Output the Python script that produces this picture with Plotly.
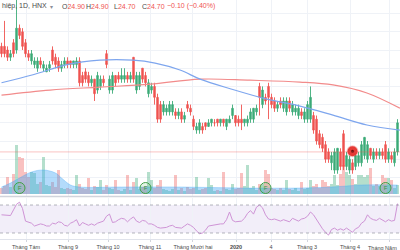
import plotly.graph_objects as go

# ---------------- data ----------------
opens = [27.6, 27.6, 27.5, 27.3, 27.7, 27.5, 28.1, 28.0, 27.7, 27.4,
         27.2, 27.1, 27.0, 27.2, 27.0, 26.9, 27.0, 27.5, 27.3, 27.2,
         27.0, 27.1, 27.2, 27.2, 27.1, 27.1, 27.2, 26.8, 26.9, 26.8,
         26.6, 26.7, 26.4, 26.5, 26.7, 27.4, 26.4, 26.4, 26.8, 26.8,
         26.7, 26.7, 26.8, 26.7, 27.3, 26.4, 26.5, 27.0, 26.8, 26.3,
         26.4, 26.5, 26.2, 26.0, 25.8, 25.8, 25.8, 25.8, 25.8, 25.7,
         25.8, 25.6, 26.0, 25.9, 25.6, 25.3, 25.3, 25.4, 25.5, 25.4,
         25.5, 25.5, 25.6, 25.5, 25.6, 25.4, 25.5, 25.7, 25.7, 25.6,
         25.6, 25.5, 25.5, 25.6, 25.6, 25.8, 26.5, 26.0, 26.2, 26.5,
         26.2, 26.1, 25.9, 26.1, 25.9, 25.8, 26.1, 25.8, 25.8, 25.7,
         25.8, 25.6, 25.6, 25.6, 25.7, 25.6, 25.2, 25.1, 24.9, 24.7,
         24.4, 24.2, 24.2, 24.7, 25.2, 24.3, 24.2, 24.4, 24.3, 24.4,
         24.4, 24.6, 24.5, 24.8, 24.5, 24.7, 24.6, 24.7, 24.9, 24.5,
         24.6, 24.4, 24.7]
highs = [27.7, 28.3, 27.6, 27.5, 27.8, 28.9, 28.2, 28.1, 27.8, 27.5,
         27.5, 27.3, 27.3, 27.3, 27.2, 27.1, 27.2, 27.6, 27.4, 27.3,
         27.2, 27.3, 27.3, 27.2, 27.2, 27.3, 27.3, 26.9, 27.0, 26.9,
         26.8, 26.7, 26.9, 26.8, 26.8, 27.5, 26.8, 26.9, 26.8, 26.9,
         27.0, 27.0, 26.9, 26.9, 27.3, 26.9, 26.9, 27.0, 26.9, 26.7,
         26.6, 26.6, 26.3, 26.1, 26.1, 26.0, 26.1, 26.1, 25.9, 25.9,
         25.9, 25.8, 26.1, 26.0, 25.7, 25.5, 25.6, 25.5, 25.5, 25.6,
         25.6, 25.6, 25.6, 25.6, 25.6, 25.6, 25.7, 26.0, 25.7, 25.7,
         26.0, 25.6, 25.7, 25.9, 25.9, 26.0, 26.6, 26.5, 26.3, 26.6,
         26.3, 26.2, 26.1, 26.2, 26.2, 26.2, 26.2, 26.1, 26.0, 26.0,
         25.9, 25.9, 26.1, 26.5, 25.8, 25.7, 25.3, 25.2, 25.0, 24.8,
         24.7, 24.8, 24.8, 24.8, 25.3, 24.7, 24.6, 24.5, 24.7, 24.7,
         25.0, 25.1, 25.0, 24.8, 24.8, 24.8, 24.8, 24.8, 25.0, 24.8,
         24.7, 24.8, 25.6]
lows = [27.3, 27.3, 27.2, 27.2, 27.3, 27.4, 27.8, 27.5, 27.3, 27.2,
        27.1, 27.0, 26.9, 27.0, 26.9, 26.9, 26.9, 27.1, 27.0, 26.9,
        26.9, 27.0, 27.0, 27.0, 27.0, 27.0, 26.5, 26.5, 26.6, 26.5,
        26.5, 26.1, 26.3, 26.4, 26.5, 27.0, 26.3, 26.3, 26.5, 26.6,
        26.6, 26.6, 26.6, 26.6, 26.6, 26.3, 26.4, 26.6, 26.5, 26.2,
        26.3, 26.0, 25.5, 25.5, 25.7, 25.7, 25.7, 25.7, 25.6, 25.6,
        25.5, 25.5, 25.8, 25.7, 25.3, 25.2, 25.2, 25.2, 25.3, 25.4,
        25.4, 25.4, 25.4, 25.4, 25.4, 25.3, 25.5, 25.6, 25.4, 25.4,
        25.3, 25.4, 25.4, 25.5, 25.5, 25.7, 25.7, 25.9, 26.0, 25.6,
        25.9, 25.8, 25.8, 25.9, 25.8, 25.7, 25.8, 25.7, 25.7, 25.6,
        25.6, 25.5, 25.5, 25.5, 25.2, 24.9, 24.8, 24.7, 24.4, 24.4,
        24.2, 24.1, 24.1, 24.2, 24.2, 24.2, 24.1, 24.1, 24.2, 24.3,
        24.3, 24.5, 24.4, 24.5, 24.4, 24.5, 24.5, 24.5, 24.4, 24.4,
        24.4, 24.3, 24.6]
closes = [27.4, 27.4, 27.3, 27.4, 27.4, 28.1, 27.9, 27.6, 27.4, 27.3,
          27.4, 27.2, 27.2, 27.1, 27.1, 27.0, 27.1, 27.2, 27.1, 27.0,
          27.1, 27.2, 27.1, 27.1, 27.2, 27.2, 26.6, 26.6, 26.7, 26.6,
          26.7, 26.3, 26.8, 26.7, 26.6, 27.1, 26.7, 26.8, 26.6, 26.7,
          26.8, 26.8, 26.7, 26.8, 26.7, 26.8, 26.8, 26.7, 26.6, 26.6,
          26.5, 26.2, 25.6, 25.6, 26.0, 25.9, 26.0, 26.0, 25.7, 25.8,
          25.6, 25.7, 25.9, 25.8, 25.4, 25.4, 25.5, 25.3, 25.4, 25.5,
          25.6, 25.5, 25.5, 25.6, 25.5, 25.6, 25.6, 25.9, 25.5, 25.5,
          25.5, 25.6, 25.6, 25.8, 25.9, 25.9, 26.2, 26.4, 26.1, 26.2,
          26.0, 25.9, 26.0, 26.0, 26.1, 26.1, 25.9, 26.0, 25.9, 25.9,
          25.7, 25.8, 26.0, 26.2, 25.3, 25.0, 24.9, 24.8, 24.5, 24.5,
          24.6, 24.7, 24.8, 24.3, 24.3, 24.6, 24.5, 24.2, 24.6, 24.6,
          24.9, 25.1, 24.9, 24.6, 24.7, 24.6, 24.7, 24.6, 24.5, 24.7,
          24.5, 24.7, 25.5]
# volume, thousand shares
volumes = [60, 80, 170, 70, 200, 490, 370, 360, 220, 170,
           220, 210, 100, 120, 370, 90, 80, 120, 70, 240,
           60, 50, 60, 50, 40, 190, 100, 60, 50, 160,
           40, 80, 70, 140, 40, 90, 60, 50, 140, 40,
           30, 50, 190, 40, 120, 160, 50, 70, 80, 220,
           140, 60, 90, 140, 50, 40, 30, 50, 190, 40,
           60, 30, 70, 50, 60, 170, 40, 50, 60, 160,
           90, 30, 40, 30, 220, 50, 40, 100, 50, 60,
           210, 80, 290, 60, 80, 40, 100, 100, 240, 200,
           60, 50, 40, 60, 40, 140, 50, 40, 60, 30,
           120, 50, 60, 140, 80, 100, 60, 140, 120, 80,
           100, 190, 90, 200, 290, 220, 190, 150, 100, 190,
           190, 170, 190, 260, 80, 100, 80, 190, 160, 160,
           140, 60, 90]
rsi = [56, 56, 56, 55, 63, 71, 74, 65, 47, 46,
       44, 40, 41, 43, 42, 40, 40, 44, 43, 46,
       45, 41, 40, 44, 46, 49, 40, 45, 43, 41,
       43, 41, 44, 45, 47, 54, 57, 45, 46, 49,
       51, 50, 46, 50, 53, 47, 45, 48, 47, 43,
       43, 41, 38, 37, 37, 38, 40, 41, 38, 37,
       37, 40, 43, 41, 38, 33, 29, 30, 34, 40,
       41, 41, 43, 43, 43, 49, 60, 48, 46, 46,
       47, 51, 58, 62, 57, 67, 70, 66, 56, 50,
       49, 50, 49, 47, 49, 47, 46, 51, 49, 47,
       50, 51, 54, 60, 56, 49, 41, 36, 31, 27,
       35, 37, 34, 36, 34, 37, 34, 31, 36, 38,
       44, 47, 56, 51, 49, 48, 51, 49, 46, 49,
       47, 48, 72]

ma50_idx = [0, 10.5, 21.8, 32.8, 43.8, 51.2, 59.5, 66.2, 76.5, 88.5, 99.5, 110.5, 121.8, 132.8]
ma50_val = [26.60, 26.82, 27.10, 27.22, 27.22, 27.14, 26.95, 26.70, 26.43, 26.15, 25.96, 25.71, 25.44, 25.30]
ma200_idx = [0, 16.2, 32.8, 49.5, 66.2, 82.8, 99.5, 110.5, 121.8, 132.8]
ma200_val = [26.26, 26.40, 26.48, 26.56, 26.70, 26.67, 26.62, 26.54, 26.32, 25.90]
volma_idx = [0, 3, 6, 10, 14, 18, 20, 23, 26, 40, 60, 80, 100, 110, 115, 120, 132]
volma_val = [70, 110, 160, 220, 240, 210, 160, 90, 70, 70, 70, 60, 60, 70, 80, 90, 90]

tick_idx = [8.17, 22.17, 35.5, 49.5, 63.83, 78.17, 89.83, 101.83, 116.17, 129.17]
tick_text = ["Tháng Tám", "Tháng 9", "Tháng 10", "Tháng 11", "Tháng Mười hai",
             "<b>2020</b>", "4", "Tháng 3", "Tháng 4", "Tháng Năm"]

event_idx = [6, 48, 88, 128]
event_vol = [60, 60, 60, 60]
event_text = ["F", "F", "F", "F"]
news_idx = [117]
news_price = [24.72]
last_price = 24.70

header_name = "hiệp, 1D, HNX"
header_items = [("O", "24.90", 60), ("H", "24.90", 84), ("L", "24.70", 112), ("C", "24.70", 140)]
header_change = "−0.10 (−0.40%)"

# ---------------- figure ----------------
W, H = 400, 250
UP = "#3dab78"
DN = "#ef5350"
FONT = "Liberation Sans"
idx = list(range(len(opens)))

def py(px):
    return 1 - px / H

fig = go.Figure()

vol_colors = ["rgba(61,171,120,0.38)" if c >= o else "rgba(239,83,80,0.36)"
              for o, c in zip(opens, closes)]
fig.add_trace(go.Bar(x=idx, y=volumes, marker=dict(color=vol_colors, line=dict(width=0)),
                     width=0.7, xaxis="x", yaxis="y", hoverinfo="skip"))
fig.add_trace(go.Scatter(x=volma_idx, y=volma_val, mode="lines", line=dict(color="rgba(66,165,245,0.55)", width=0.6, shape="spline"),
                         fill="tozeroy", fillcolor="rgba(66,165,245,0.40)", xaxis="x", yaxis="y", hoverinfo="skip"))
fig.add_trace(go.Scatter(x=event_idx, y=event_vol, mode="markers+text", text=event_text,
                         textfont=dict(size=6, color="#2e9d45", family=FONT),
                         marker=dict(size=11, color="rgba(76,175,80,0.15)", line=dict(color="#43a047", width=1)),
                         xaxis="x", yaxis="y", hoverinfo="skip"))

fig.add_trace(go.Scatter(x=ma200_idx, y=ma200_val, mode="lines", line=dict(color="#f28b8b", width=1.2, shape="spline"),
                         xaxis="x", yaxis="y3", hoverinfo="skip"))
fig.add_trace(go.Scatter(x=ma50_idx, y=ma50_val, mode="lines", line=dict(color="#7ea6ee", width=1.2, shape="spline"),
                         xaxis="x", yaxis="y3", hoverinfo="skip"))
fig.add_trace(go.Candlestick(x=idx, open=opens, high=highs, low=lows, close=closes,
                             increasing=dict(line=dict(color=UP, width=0.9), fillcolor=UP),
                             decreasing=dict(line=dict(color=DN, width=0.9), fillcolor=DN),
                             xaxis="x", yaxis="y3", hoverinfo="skip"))
fig.add_trace(go.Scatter(x=news_idx, y=news_price, mode="markers",
                         marker=dict(size=10, color="#e53935", line=dict(color="rgba(229,57,53,0.3)", width=2)),
                         xaxis="x", yaxis="y3", hoverinfo="skip"))
fig.add_trace(go.Scatter(x=news_idx, y=news_price, mode="markers",
                         marker=dict(size=3, color="#6d1010"),
                         xaxis="x", yaxis="y3", hoverinfo="skip"))

fig.add_trace(go.Scatter(x=idx, y=rsi, mode="lines", line=dict(color="#cf94d6", width=1),
                         xaxis="x2", yaxis="y2", hoverinfo="skip"))

# last month label is placed right-aligned so it stays inside the picture
axis_text = tick_text[:-1] + [""]

grid = "#eff2f7"
x_range = [-0.5, 132.83]
fig.update_layout(
    width=W, height=H, margin=dict(l=0, r=0, t=0, b=0),
    paper_bgcolor="white", plot_bgcolor="white", showlegend=False,
    template="none",
    bargap=0,
    xaxis=dict(domain=[0, 1], range=x_range, anchor="y", tickvals=tick_idx, showticklabels=False,
               showgrid=True, gridcolor=grid, gridwidth=1, zeroline=False, showline=False,
               ticks="", rangeslider=dict(visible=False), fixedrange=True),
    yaxis=dict(domain=[py(196), 1], range=[-20, 1940], showgrid=False, showticklabels=False,
               zeroline=False, showline=False, ticks="", fixedrange=True),
    yaxis3=dict(domain=[py(196), 1], range=[23.489, 28.874], overlaying="y", anchor="x",
                showgrid=True, gridcolor=grid, dtick=0.5, tick0=0, showticklabels=False,
                zeroline=False, showline=False, ticks=""),
    xaxis2=dict(domain=[0, 1], range=x_range, anchor="y2", tickvals=tick_idx, ticktext=axis_text,
                showgrid=True, gridcolor=grid, zeroline=False, showline=True, linecolor="#e0e3eb",
                ticks="outside", ticklen=2, tickcolor="#d1d4dc",
                tickfont=dict(size=5.5, color="#4a4a4a", family=FONT), automargin=False,
                fixedrange=True),
    yaxis2=dict(domain=[py(239), py(198)], range=[21.43, 80], anchor="x2", showgrid=False,
                showticklabels=False, zeroline=False, showline=False, ticks=""),
    shapes=[
        dict(type="rect", xref="paper", x0=0, x1=1, yref="y2", y0=30, y1=70,
             fillcolor="rgba(126,87,194,0.10)", line=dict(width=0), layer="below"),
        dict(type="line", xref="paper", x0=0, x1=1, yref="y2", y0=70, y1=70,
             line=dict(color="rgba(120,123,134,0.55)", width=1, dash="dot")),
        dict(type="line", xref="paper", x0=0, x1=1, yref="y2", y0=30, y1=30,
             line=dict(color="rgba(120,123,134,0.55)", width=1, dash="dot")),
        dict(type="line", xref="paper", x0=0, x1=1, yref="paper", y0=py(196.5), y1=py(196.5),
             line=dict(color="#d1d4dc", width=1.5)),
        dict(type="line", xref="paper", x0=0, x1=1, yref="y3", y0=last_price, y1=last_price,
             line=dict(color="rgba(239,83,80,0.35)", width=1)),
    ],
)

HF = 7
anns = [dict(x=0, y=py(6), xref="paper", yref="paper", xanchor="left", yanchor="middle",
             text=header_name, showarrow=False, font=dict(size=HF, color="#4a4a4a", family=FONT)),
        dict(x=48 / W, y=py(6), xref="paper", yref="paper", xanchor="left", yanchor="middle",
             text="▾", showarrow=False, font=dict(size=6, color="#8a8e99", family="DejaVu Sans"))]
for lab, val, px in header_items:
    anns.append(dict(x=px / W, y=py(6), xref="paper", yref="paper", xanchor="left", yanchor="middle",
                     text=f"{lab}<span style='color:{DN}'>{val}</span>", showarrow=False,
                     font=dict(size=HF, color="#4a4a4a", family=FONT)))
anns.append(dict(x=165 / W, y=py(6), xref="paper", yref="paper", xanchor="left", yanchor="middle",
                 text=header_change, showarrow=False, font=dict(size=HF, color=DN, family=FONT)))
anns.append(dict(x=1, y=py(247.5), xref="paper", yref="paper", xanchor="right", yanchor="middle",
                 text=tick_text[-1], showarrow=False, xshift=-1,
                 font=dict(size=5.5, color="#4a4a4a", family=FONT)))
fig.update_layout(annotations=anns)

fig.write_html("out.html", config={"displayModeBar": False})
